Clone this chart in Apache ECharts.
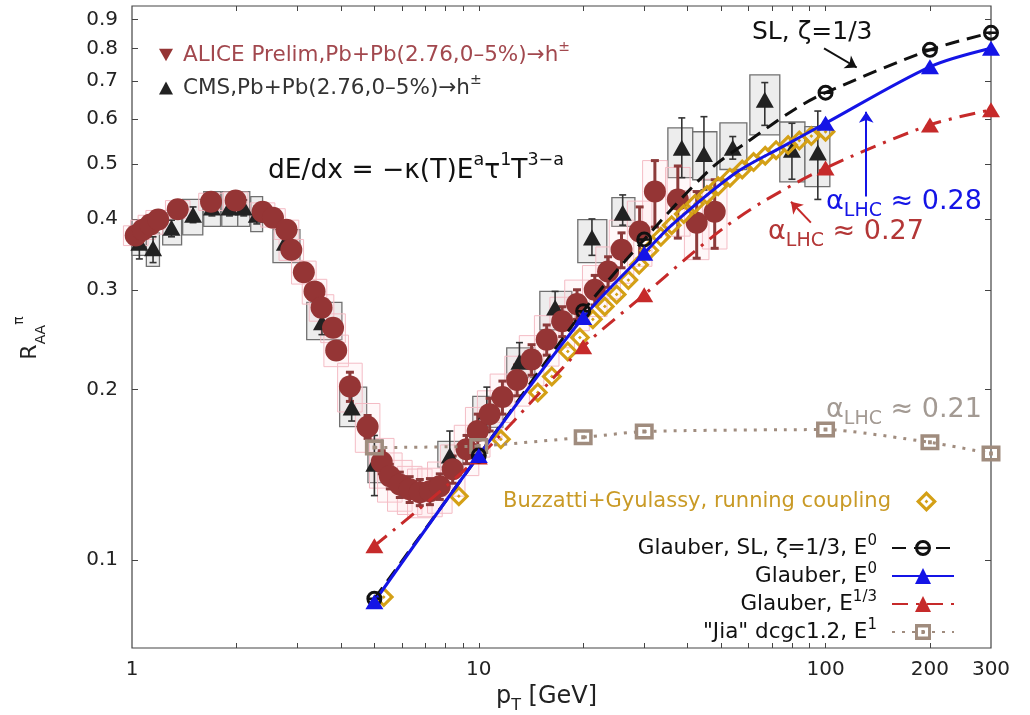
<!DOCTYPE html>
<html><head><meta charset="utf-8">
<script src="https://cdn.jsdelivr.net/npm/echarts@6/dist/echarts.min.js"></script>
<style>html,body{margin:0;padding:0;background:#fff}#c{width:1030px;height:715px}</style>
</head><body><div id="c"></div>
<script>
const FONT = 'DejaVu Sans';

// ---------------- data ----------------
const xTickLabels = [1, 10, 100, 200, 300];
const xTicks = [2, 3, 4, 5, 6, 7, 8, 9, 10, 20, 30, 40, 50, 60, 70, 80, 90, 100, 200];
const yTickLabels = [0.1, 0.2, 0.3, 0.4, 0.5, 0.6, 0.7, 0.8, 0.9];
const xRange = [1, 300];
const yRange = [0.07, 0.95];

// ALICE preliminary (circles)
const aliceX = [1.025, 1.075, 1.13, 1.19, 1.355, 1.69, 1.99, 2.38, 2.55, 2.79, 2.88, 3.13, 3.36, 3.52, 3.80, 3.88,
  4.25, 4.78, 5.25, 5.54, 5.92, 6.32, 6.76, 7.23, 7.72, 8.41, 9.22,
  9.93, 10.75, 11.7, 12.9, 14.2, 15.7, 17.4, 19.2, 21.6, 23.6,
  25.8, 29.1, 32.2, 37.5, 42.5, 47.9];
const aliceY = [0.374, 0.383, 0.391, 0.399, 0.416, 0.429, 0.431, 0.412, 0.402, 0.383, 0.353, 0.322, 0.298, 0.279, 0.257, 0.2345,
  0.2026, 0.172, 0.149, 0.1406, 0.136, 0.1334, 0.1318, 0.1323, 0.135, 0.1447, 0.157,
  0.169, 0.181, 0.194, 0.208, 0.226, 0.245, 0.264, 0.283, 0.300, 0.323,
  0.353, 0.380, 0.447, 0.433, 0.394, 0.412];
const aliceStat = [0.005, 0.005, 0.005, 0.005, 0.005, 0.005, 0.005, 0.005, 0.005, 0.005, 0.005, 0.005, 0.005, 0.005, 0.005, 0.005,
  0.012, 0.008, 0.007, 0.007, 0.007, 0.007, 0.007, 0.007, 0.007, 0.008, 0.009,
  0.012, 0.012, 0.013, 0.013, 0.014, 0.015, 0.016, 0.017, 0.018, 0.02,
  0.025, 0.04, 0.06, 0.063, 0.053, 0.057];
const aliceSys = [0.015, 0.015, 0.015, 0.015, 0.015, 0.015, 0.015, 0.015, 0.015, 0.015, 0.015, 0.015, 0.015, 0.015, 0.015, 0.015,
  0.02, 0.017, 0.015, 0.014, 0.014, 0.013, 0.013, 0.013, 0.014, 0.015, 0.016,
  0.017, 0.018, 0.019, 0.021, 0.023, 0.025, 0.027, 0.029, 0.031, 0.034,
  0.045, 0.05, 0.06, 0.06, 0.055, 0.058];

// CMS (triangles)
const cmsX = [1.05, 1.15, 1.30, 1.50, 1.70, 1.91, 2.10, 2.29, 2.76, 3.53, 4.30, 5.0, 8.25, 10.55, 13.1, 16.6, 21.2, 26.0, 38.5, 44.6, 54.0, 66.8, 80.0, 95.0];
const cmsY = [0.363, 0.355, 0.386, 0.407, 0.419, 0.419, 0.419, 0.407, 0.363, 0.263, 0.186, 0.148, 0.153, 0.183, 0.224, 0.279, 0.371, 0.410, 0.534, 0.521, 0.534, 0.649, 0.530, 0.524];
const cmsStatLo = [0.340, 0.335, 0.372, 0.394, 0.405, 0.405, 0.405, 0.392, 0.350, 0.250, 0.176, 0.130, 0.140, 0.168, 0.207, 0.262, 0.345, 0.390, 0.473, 0.450, 0.510, 0.585, 0.470, 0.433];
const cmsStatHi = [0.385, 0.372, 0.398, 0.420, 0.432, 0.432, 0.432, 0.421, 0.377, 0.275, 0.198, 0.166, 0.169, 0.202, 0.242, 0.298, 0.400, 0.441, 0.603, 0.606, 0.559, 0.696, 0.590, 0.620];
const cmsBinLo = [1.0, 1.10, 1.226, 1.40, 1.61, 1.815, 2.018, 2.20, 2.55, 3.19, 3.97, 4.79, 7.62, 9.61, 12.04, 15.0, 19.3, 24.2, 35.1, 41.4, 49.6, 60.5, 73.8, 87.2];
const cmsBinHi = [1.1, 1.20, 1.39, 1.60, 1.80, 2.018, 2.186, 2.38, 3.05, 4.03, 4.75, 5.29, 9.0, 11.73, 14.51, 18.55, 23.4, 28.2, 41.4, 48.6, 59.3, 73.8, 87.2, 102.9];
const cmsSysLo = [0.345, 0.330, 0.360, 0.375, 0.388, 0.388, 0.388, 0.380, 0.335, 0.245, 0.172, 0.137, 0.146, 0.1715, 0.210, 0.255, 0.335, 0.388, 0.473, 0.469, 0.489, 0.563, 0.465, 0.456];
const cmsSysHi = [0.382, 0.378, 0.410, 0.433, 0.447, 0.447, 0.447, 0.438, 0.383, 0.285, 0.202, 0.163, 0.162, 0.1945, 0.237, 0.298, 0.399, 0.436, 0.579, 0.570, 0.591, 0.718, 0.593, 0.582];

// Buzzatti + Gyulassy (diamonds)
const bgX = [5.32, 8.76, 11.58, 14.8, 16.24, 18.06, 19.57, 21.33, 23.09, 24.98, 27.0, 29.0, 31.0, 33.5, 36.0, 39.0, 42.0, 45.5, 49.0, 53.0, 57.5, 62.0, 67.0, 72.0, 78.0, 84.0, 91.0, 100];
const bgY = [0.0861, 0.1297, 0.1634, 0.1977, 0.211, 0.2335, 0.247, 0.266, 0.2803, 0.2943, 0.312, 0.332, 0.352, 0.372, 0.390, 0.408, 0.425, 0.441, 0.457, 0.473, 0.489, 0.504, 0.517, 0.529, 0.540, 0.550, 0.560, 0.570];

// Model curves: marked points (symbols) and unmarked points
const modelX = [5, 10, 20, 30, 100, 200, 300];
const slY  = [0.0855, 0.153, 0.275, 0.368, 0.668, 0.795, 0.852];
const e0Y  = [0.0845, 0.153, 0.268, 0.348, 0.590, 0.742, 0.800];
const e13Y = [0.106, 0.152, 0.238, 0.294, 0.492, 0.586, 0.623];
const jiaY = [0.158, 0.159, 0.1647, 0.1687, 0.170, 0.1614, 0.1543];
const slPathX = [46.4, 59, 82];   const slPathY = [0.489, 0.545, 0.626];
const e0PathX = [36, 55, 75];     const e0PathY = [0.390, 0.482, 0.536];
const e13PathX = [39.5, 51, 66];  const e13PathY = [0.340, 0.386, 0.429];

// annotation arrows (data coordinates: start, end)
const slArrow  = [[99, 0.80], [123, 0.74]];
const e0Arrow  = [[131, 0.438], [131, 0.618]];
const e13Arrow = [[90.7, 0.394], [79.5, 0.429]];

// ---------------- helpers ----------------
const zip = (xs, ys) => xs.map((x, i) => [x, ys[i]]);
const L10 = Math.log10;
function curve(mx, my, px, py) {
  const pts = mx.map((x, i) => ({ value: [x, my[i]] }))
    .concat(px.map((x, i) => ({ value: [x, py[i]], symbol: 'none' })));
  return pts.sort((a, b) => a.value[0] - b.value[0]);
}

function boxRender(fill, stroke, lw) {
  return function (params, api) {
    const a = api.coord([api.value(0), api.value(3)]);
    const b = api.coord([api.value(1), api.value(2)]);
    return { type: 'rect', shape: { x: a[0], y: a[1], width: b[0] - a[0], height: b[1] - a[1] },
      style: { fill: fill, stroke: stroke, lineWidth: lw } };
  };
}
function errRender(color, lw, cap) {
  return function (params, api) {
    const x = api.value(0);
    const p1 = api.coord([x, api.value(1)]);
    const p2 = api.coord([x, api.value(2)]);
    const st = { stroke: color, lineWidth: lw };
    return { type: 'group', children: [
      { type: 'line', shape: { x1: p1[0], y1: p1[1], x2: p2[0], y2: p2[1] }, style: st },
      { type: 'line', shape: { x1: p2[0] - cap, y1: p2[1], x2: p2[0] + cap, y2: p2[1] }, style: st },
      { type: 'line', shape: { x1: p1[0] - cap, y1: p1[1], x2: p1[0] + cap, y2: p1[1] }, style: st }
    ] };
  };
}
function arrowLine(seg, color) {
  return { silent: true, symbol: ['none', 'arrow'], symbolSize: 11, animation: false,
    label: { show: false }, lineStyle: { color: color, width: 2, type: 'solid' },
    emphasis: { disabled: true },
    data: [[{ coord: seg[0] }, { coord: seg[1] }]] };
}
const fmtLog = v => String(Math.round(Math.pow(10, v) * 10) / 10);

const diamondSym = 'path://M0,-10L10,0L0,10L-10,0Z M0,-5.8L-5.8,0L0,5.8L5.8,0Z M0,-1.8L1.8,0L0,1.8L-1.8,0Z';
const slSym = 'path://M-10,0A10,10 0 1,1 10,0A10,10 0 1,1 -10,0Z M-6.3,0A6.3,6.3 0 1,0 6.3,0A6.3,6.3 0 1,0 -6.3,0Z M-7,-1.6L7,-1.6L7,1.6L-7,1.6Z';
const jiaSym = 'path://M-10,-8L10,-8L10,8L-10,8Z M-6.3,-4.5L-6.3,4.5L6.3,4.5L6.3,-4.5Z M-2,-2L2,-2L2,2L-2,2Z';

const C = {
  alice: '#953535', aliceText: '#a2484e', cms: '#222222', gold: '#d4a016', goldText: '#c99a26',
  blue: '#1414e6', red: '#c62a2a', redText: '#b33636', grey: '#a08c7e', greyText: '#a39a93', black: '#111111'
};

const axisLabelStyle = { fontFamily: FONT, fontSize: 20, color: '#222' };
const tickStyle = { lineStyle: { color: '#444', width: 1 } };

const option = {
  animation: false,
  backgroundColor: '#fff',
  grid: { left: 132, right: 39, top: 6, bottom: 67, show: true, borderColor: '#444', borderWidth: 1.2,
          containLabel: false, outerBoundsMode: 'none' },
  xAxis: [
    { type: 'log', logBase: 10, min: xRange[0], max: xRange[1], show: false, position: 'bottom' },
    { type: 'value', min: L10(xRange[0]), max: L10(xRange[1]), position: 'bottom',
      axisLine: { show: false }, splitLine: { show: false },
      axisTick: { show: true, inside: true, length: 5, customValues: xTicks.map(L10), ...tickStyle },
      axisLabel: { show: true, margin: 12, customValues: xTickLabels.map(L10), formatter: fmtLog, ...axisLabelStyle },
      name: '{p|p}{s|T}{p| [GeV]}', nameLocation: 'middle', nameGap: 29,
      nameTextStyle: { padding: [0, 30, 0, 0], rich: {
        p: { fontFamily: FONT, fontSize: 24, color: '#222', lineHeight: 34 },
        s: { fontFamily: FONT, fontSize: 16, color: '#222', lineHeight: 16, verticalAlign: 'bottom' } } } },
    { type: 'value', min: L10(xRange[0]), max: L10(xRange[1]), position: 'top',
      axisLine: { show: false }, splitLine: { show: false }, axisLabel: { show: false },
      axisTick: { show: true, inside: true, length: 5, customValues: xTicks.map(L10), ...tickStyle } }
  ],
  yAxis: [
    { type: 'log', logBase: 10, min: yRange[0], max: yRange[1], show: false, position: 'left' },
    { type: 'value', min: L10(yRange[0]), max: L10(yRange[1]), position: 'left',
      axisLine: { show: false }, splitLine: { show: false },
      axisTick: { show: true, inside: true, length: 6, customValues: yTickLabels.map(L10), ...tickStyle },
      axisLabel: { show: true, margin: 14, customValues: yTickLabels.map(L10), formatter: fmtLog, ...axisLabelStyle },
      name: '{r|R}{s|AA}{p|π}', nameLocation: 'middle', nameGap: 84, nameRotate: 90,
      nameTextStyle: { padding: [0, 22, 0, 0], rich: {
        r: { fontFamily: FONT, fontSize: 22, color: '#222', lineHeight: 36 },
        s: { fontFamily: FONT, fontSize: 14, color: '#222', lineHeight: 14, verticalAlign: 'bottom' },
        p: { fontFamily: FONT, fontSize: 14, color: '#222', lineHeight: 14, verticalAlign: 'top' } } } },
    { type: 'value', min: L10(yRange[0]), max: L10(yRange[1]), position: 'right',
      axisLine: { show: false }, splitLine: { show: false }, axisLabel: { show: false },
      axisTick: { show: true, inside: true, length: 6, customValues: yTickLabels.map(L10), ...tickStyle } }
  ],
  legend: [
    { left: 159, top: 40, orient: 'vertical', itemGap: 7, itemWidth: 14, itemHeight: 13, padding: 0, selectedMode: false,
      data: [{ name: 'ALICE', icon: 'path://M0,0L10,0L5,9Z' }, { name: 'CMS', icon: 'triangle' }],
      formatter: n => n === 'ALICE' ? '{a|ALICE Prelim,Pb+Pb(2.76,0–5%)→h}{as|±}' : '{c|CMS,Pb+Pb(2.76,0–5%)→h}{cs|±}',
      textStyle: { fontFamily: FONT, fontSize: 21, padding: [0, 0, 0, 5], rich: {
        a: { fontFamily: FONT, fontSize: 21.5, color: C.aliceText, lineHeight: 30 },
        as: { fontFamily: FONT, fontSize: 14, color: C.aliceText, lineHeight: 14, verticalAlign: 'top' },
        c: { fontFamily: FONT, fontSize: 21.5, color: '#333', lineHeight: 30 },
        cs: { fontFamily: FONT, fontSize: 14, color: '#333', lineHeight: 14, verticalAlign: 'top' } } } },
    { left: 503, top: 491, align: 'right', itemWidth: 21, itemHeight: 21, padding: 0, selectedMode: false,
      data: ['BG'], formatter: () => 'Buzzatti+Gyulassy, running coupling',
      textStyle: { fontFamily: FONT, fontSize: 21, color: C.goldText, padding: [0, 20, 0, 0] } },
    { right: 75, top: 534, orient: 'vertical', align: 'right', itemWidth: 62, itemHeight: 20, itemGap: 3, padding: 0, selectedMode: false,
      data: ['SL', 'E0', 'E13', 'Jia'],
      formatter: n => ({ SL: '{t|Glauber, SL, ζ=1/3, E}{s|0}', E0: '{t|Glauber, E}{s|0}',
                         E13: '{t|Glauber, E}{s|1/3}', Jia: '{t|"Jia" dcgc1.2, E}{s|1}' })[n],
      textStyle: { fontFamily: FONT, fontSize: 21.5, color: C.black, padding: [0, 10, 0, 0], rich: {
        t: { fontFamily: FONT, fontSize: 21.5, color: C.black, lineHeight: 28 },
        s: { fontFamily: FONT, fontSize: 15, color: C.black, lineHeight: 15, verticalAlign: 'top' } } } }
  ],
  series: [
    { type: 'custom', name: 'cmsSys', silent: true, xAxisIndex: 0, yAxisIndex: 0,
      renderItem: boxRender('#ededed', '#707070', 1.3),
      data: cmsX.map((x, i) => [cmsBinLo[i], cmsBinHi[i], cmsSysLo[i], cmsSysHi[i]]), encode: { x: [0, 1], y: [2, 3] } },
    { type: 'custom', name: 'aliceSys', silent: true, xAxisIndex: 0, yAxisIndex: 0,
      renderItem: boxRender('rgba(255,214,222,0.18)', '#f4bcc5', 1),
      data: aliceX.map((x, i) => [x / 1.085, x * 1.085, aliceY[i] - aliceSys[i], aliceY[i] + aliceSys[i]]), encode: { x: [0, 1], y: [2, 3] } },
    { type: 'custom', name: 'cmsStat', silent: true, xAxisIndex: 0, yAxisIndex: 0,
      renderItem: errRender('#333', 1.6, 3.5),
      data: cmsX.map((x, i) => [x, cmsStatLo[i], cmsStatHi[i]]), encode: { x: 0, y: [1, 2] } },
    { type: 'scatter', name: 'CMS', xAxisIndex: 0, yAxisIndex: 0, symbol: 'triangle', symbolSize: [18, 16],
      itemStyle: { color: C.cms, opacity: 1 }, data: zip(cmsX, cmsY) },
    { type: 'scatter', name: 'ALICE', xAxisIndex: 0, yAxisIndex: 0, symbol: 'circle', symbolSize: 22,
      itemStyle: { color: C.alice, opacity: 1 }, data: zip(aliceX, aliceY) },
    { type: 'custom', name: 'aliceStat', silent: true, xAxisIndex: 0, yAxisIndex: 0,
      renderItem: errRender('#8c3a3a', 3, 4),
      data: aliceX.map((x, i) => [x, aliceY[i] - aliceStat[i], aliceY[i] + aliceStat[i]]), encode: { x: 0, y: [1, 2] } },
    { type: 'line', name: 'Jia', xAxisIndex: 0, yAxisIndex: 0, data: zip(modelX, jiaY), smooth: 0.2,
      symbol: jiaSym, symbolSize: [19, 16], showSymbol: true,
      lineStyle: { color: C.grey, width: 3, type: [3, 7] }, itemStyle: { color: C.grey, borderWidth: 0 } },
    { type: 'line', name: 'E13', xAxisIndex: 0, yAxisIndex: 0, data: curve(modelX, e13Y, e13PathX, e13PathY), smooth: 0.3,
      symbol: 'triangle', symbolSize: [18, 15], showSymbol: true,
      lineStyle: { color: C.red, width: 3, type: [16, 8, 3, 8] }, itemStyle: { color: C.red, borderWidth: 0 },
      markLine: arrowLine(e13Arrow, C.red) },
    { type: 'line', name: 'SL', xAxisIndex: 0, yAxisIndex: 0, data: curve(modelX, slY, slPathX, slPathY), smooth: 0.3,
      symbol: slSym, symbolSize: 16, showSymbol: true,
      lineStyle: { color: C.black, width: 3, type: [14, 8] }, itemStyle: { color: C.black, borderWidth: 0 },
      markLine: arrowLine(slArrow, C.black) },
    { type: 'line', name: 'E0', xAxisIndex: 0, yAxisIndex: 0, data: curve(modelX, e0Y, e0PathX, e0PathY), smooth: 0.3,
      symbol: 'triangle', symbolSize: [18, 15], showSymbol: true,
      lineStyle: { color: C.blue, width: 3, type: 'solid' }, itemStyle: { color: C.blue, borderWidth: 0 },
      markLine: arrowLine(e0Arrow, C.blue) },
    { type: 'scatter', name: 'BG', xAxisIndex: 0, yAxisIndex: 0, symbol: diamondSym, symbolSize: 21,
      itemStyle: { color: C.gold, opacity: 1 }, data: zip(bgX, bgY) }
  ],
  graphic: [
    { type: 'text', x: 752, y: 32, silent: true, style: { text: 'SL, ζ=1/3', fontFamily: FONT, fontSize: 25, fill: C.black, verticalAlign: 'middle' } },
    { type: 'text', x: 268, y: 171, silent: true, style: {
      text: '{m|dE/dx = −κ(T)E}{s|a}{m|τ}{s|1}{m|T}{s|3−a}', verticalAlign: 'middle', fill: C.black,
      rich: { m: { fontFamily: FONT, fontSize: 26.5, fill: C.black, lineHeight: 40 },
              s: { fontFamily: FONT, fontSize: 17.5, fill: C.black, lineHeight: 17, verticalAlign: 'top' } } } },
    { type: 'text', x: 826, y: 202, silent: true, style: {
      text: '{a|α}{b|LHC}{a| ≈ 0.28}', verticalAlign: 'middle', fill: C.blue,
      rich: { a: { fontFamily: FONT, fontSize: 27, fill: C.blue, lineHeight: 38 },
              b: { fontFamily: FONT, fontSize: 19, fill: C.blue, lineHeight: 18, verticalAlign: 'bottom' } } } },
    { type: 'text', x: 768, y: 232, silent: true, style: {
      text: '{a|α}{b|LHC}{a| ≈ 0.27}', verticalAlign: 'middle', fill: C.redText,
      rich: { a: { fontFamily: FONT, fontSize: 27, fill: C.redText, lineHeight: 38 },
              b: { fontFamily: FONT, fontSize: 19, fill: C.redText, lineHeight: 18, verticalAlign: 'bottom' } } } },
    { type: 'text', x: 826, y: 410, silent: true, style: {
      text: '{a|α}{b|LHC}{a| ≈ 0.21}', verticalAlign: 'middle', fill: C.greyText,
      rich: { a: { fontFamily: FONT, fontSize: 27, fill: C.greyText, lineHeight: 38 },
              b: { fontFamily: FONT, fontSize: 19, fill: C.greyText, lineHeight: 18, verticalAlign: 'bottom' } } } }
  ]
};

const chart = echarts.init(document.getElementById('c'), null, { renderer: 'canvas' });
chart.setOption(option);
</script>
</body></html>
